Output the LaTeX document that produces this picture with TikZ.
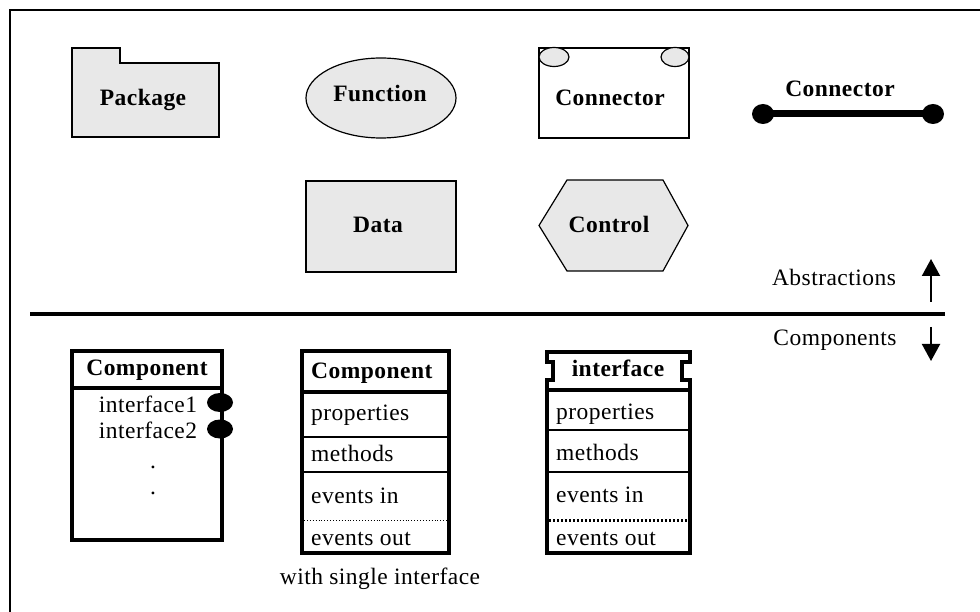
\documentclass[tikz,border=0pt]{standalone}
\usepackage{fontspec}
\setmainfont{Liberation Serif}[LetterSpace=2]
\usetikzlibrary{shapes.geometric,arrows.meta}
\definecolor{shapefill}{HTML}{E8E8E8}
\tikzset{
  txt/.style={font=\fontsize{23.5}{27}\selectfont, inner sep=0pt},
  btxt/.style={font=\fontsize{23.5}{27}\selectfont\bfseries, inner sep=0pt},
  outline/.style={draw=black, line width=1.2pt, fill=shapefill},
  thickframe/.style={draw=black, line width=4pt},
  midrule/.style={draw=black, line width=2.5pt},
  thinrule/.style={draw=black, line width=1.5pt},
  updown/.style={line width=2pt, -{Triangle[length=17pt,width=18pt]}},
  plug/.style={fill=black, ellipse, inner sep=0pt},
}
\begin{document}
\begin{tikzpicture}[x=1pt,y=-1pt]
\useasboundingbox (0,0) rectangle (980,612);
% frame
\draw[line width=1.2pt] (10,612) -- (10,10) -- (980,10);

% ---- abstractions ----
% package
\draw[outline] (72,63) -- (72,137) -- (219,137) -- (219,63) -- (120,63) -- (120,48) -- (72,48) -- cycle;
\node[btxt, anchor=base] (pkg) at (143,106) {Package};

% function
\node[outline, ellipse, minimum width=150pt, minimum height=80pt] (fun) at (381,98) {};
\node[btxt, anchor=base] (funlbl) at (380,102) {Function};

% data
\node[outline, rectangle, minimum width=150pt, minimum height=91pt] (data) at (381,226.5) {};
\node[btxt, anchor=base] (datalbl) at (378,233) {Data};

% connector box
\draw[line width=1.2pt, fill=white] (539,48) rectangle (689,138);
\draw[outline] (554,57) ellipse [x radius=15, y radius=9.5];
\draw[outline] (675,57) ellipse [x radius=14, y radius=9.5];
\node[btxt, anchor=base] (conbox) at (610,106) {Connector};

% connector line
\node[plug, minimum width=22pt, minimum height=20pt] (cl) at (763,114) {};
\node[plug, minimum width=22pt, minimum height=20pt] (cr) at (933,114) {};
\draw[line width=7pt] (cl.center) -- (cr.center);
\node[btxt, anchor=base] (conline) at (840,97) {Connector};

% control
\draw[outline] (539,225.5) -- (567,180) -- (663,180) -- (688,225.5) -- (663,271) -- (567,271) -- cycle;
\node[btxt, anchor=base] (ctl) at (609,233) {Control};

% ---- divider ----
\coordinate (divl) at (30,314);
\coordinate (divr) at (945,314);
\draw[line width=4pt] (divl) -- (divr);
\node[txt, anchor=base] (abs) at (834,286) {Abstractions};
\node[txt, anchor=base] (comps) at (835,345) {Components};
\coordinate (upa) at (931,302);
\coordinate (upb) at (931,259);
\coordinate (dna) at (931,327);
\coordinate (dnb) at (931,361);
\draw[updown] (upa) -- (upb);
\draw[updown] (dna) -- (dnb);

% ---- component with listed interfaces ----
\draw[thickframe] (72,351) rectangle (222,540);
\draw[thickframe] (72,388) -- (222,388);
\node[btxt, anchor=base] (c1h) at (147,375) {Component};
\node[txt, anchor=base] (if1) at (148,412) {interface1};
\node[txt, anchor=base] (if2) at (148,438) {interface2};
\node[txt, anchor=base] (dot1) at (153,468) {.};
\node[txt, anchor=base] (dot2) at (153,494) {.};
\node[plug, minimum width=26pt, minimum height=19pt] (p1) at (220,402.5) {};
\node[plug, minimum width=26pt, minimum height=19pt] (p2) at (220,429) {};

% ---- component with single interface ----
\draw[thickframe] (302,351) rectangle (449,553);
\draw[thickframe] (302,392) -- (449,392);
\draw[thinrule] (302,437) -- (449,437);
\draw[midrule] (302,472) -- (449,472);
\draw[line width=0.9pt, dotted] (304,520) -- (447,520);
\node[btxt, anchor=base west] (c2h) at (311,378) {Component};
\node[txt, anchor=base west] (c2p) at (311,420) {properties};
\node[txt, anchor=base west] (c2m) at (311,461) {methods};
\node[txt, anchor=base west] (c2i) at (311,503) {events in};
\node[txt, anchor=base west] (c2o) at (311,545) {events out};
\node[txt, anchor=base] (single) at (380,584) {with single interface};

% ---- interface ----
\draw[line width=4pt, line join=miter]
  (547,362) -- (547,352) -- (690,352) -- (690,362) -- (682,362) -- (682,380) -- (690,380)
  -- (690,553) -- (547,553) -- (547,380) -- (553,380) -- (553,362) -- cycle;
\draw[thickframe] (547,390) -- (692,390);
\draw[thinrule] (547,430) -- (690,430);
\draw[midrule] (547,472) -- (690,472);
\draw[line width=3pt, dash pattern=on 2pt off 2pt] (549,520) -- (688,520);
\node[btxt, anchor=base] (c3h) at (618,376) {interface};
\node[txt, anchor=base west] (c3p) at (556,419) {properties};
\node[txt, anchor=base west] (c3m) at (556,460) {methods};
\node[txt, anchor=base west] (c3i) at (556,502) {events in};
\node[txt, anchor=base west] (c3o) at (556,545) {events out};
\end{tikzpicture}
\end{document}
